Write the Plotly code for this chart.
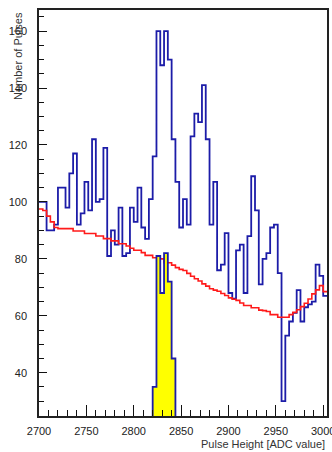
import plotly.graph_objects as go

# ---- data ----
bin_start = 2700
bin_width = 4
pulses = [100, 100, 90, 90, 92, 105, 105, 98, 110, 117,
          92, 96, 107, 97, 122, 100, 101, 119, 81, 90,
          85, 98, 81, 82, 98, 93, 105, 91, 87, 101,
          116, 160, 148, 160, 150, 122, 107, 91, 101, 92,
          123, 131, 128, 141, 122, 92, 107, 76, 78, 89,
          68, 66, 83, 85, 68, 88, 109, 97, 71, 80,
          82, 91, 92, 75, 30, 53, 58, 61, 69, 58,
          63, 64, 65, 78, 74, 67]
background = [97.5, 97, 95, 93, 91, 90.6, 90.6, 90.6, 90.6, 89.8,
              89.8, 89.8, 88.9, 88.9, 88.9, 88, 88, 87.1, 87.1, 86.3,
              86.3, 85.3, 85.3, 84.5, 83.7, 83, 83, 82.2, 81.2, 81.2,
              80.4, 80.4, 80, 78.6, 78.6, 77.8, 76.9, 76.3, 75.9, 74.9,
              73.9, 73, 72.2, 71.2, 70.4, 69.5, 69, 68.6, 67.8, 67.1,
              66.3, 65.8, 65.4, 64.5, 63.6, 63.6, 62.8, 62.8, 62, 61.8,
              61.5, 60.4, 60.4, 59.5, 59.5, 59.5, 60.4, 61.2, 62.1, 63.2,
              64.4, 65.9, 67.7, 69.1, 70.6, 68.5]
peak_first_bin = 30
peak_counts = [35, 81, 68, 82, 72, 45]

x_ticks = [2700, 2750, 2800, 2850, 2900, 2950, 3000]
y_ticks = [40, 60, 80, 100, 120, 140, 160]
x_title = "Pulse Height [ADC value]"
y_title = "Number of Pulses"

# ---- step curves ----
edges = [bin_start + bin_width * i for i in range(len(pulses) + 1)]
blue_y = pulses + [pulses[-1]]
red_y = background + [background[-1]]

pk_edges = [edges[peak_first_bin + i] for i in range(len(peak_counts) + 1)]
pk_x = [pk_edges[0]] + pk_edges + [pk_edges[-1]]
pk_y = [0] + peak_counts + [peak_counts[-1]] + [0]

BLUE = "#1c1ca8"
RED = "#ff1a1a"
FONT = "Liberation Sans, Arial, Helvetica, sans-serif"

fig = go.Figure()
fig.add_trace(go.Scatter(x=edges, y=blue_y, mode="lines", line_shape="hv",
                         line=dict(color=BLUE, width=1.8), hoverinfo="skip"))
fig.add_trace(go.Scatter(x=edges, y=red_y, mode="lines", line_shape="hv",
                         line=dict(color=RED, width=1.6), hoverinfo="skip"))
fig.add_trace(go.Scatter(x=pk_x, y=pk_y, mode="lines", line_shape="hv",
                         fill="tozeroy", fillcolor="#ffff00",
                         line=dict(color=BLUE, width=1.8), hoverinfo="skip"))

fig.update_layout(
    width=332, height=452,
    margin=dict(l=39, r=5, t=10, b=36, autoexpand=False),
    paper_bgcolor="white", plot_bgcolor="white",
    showlegend=False,
    font=dict(family=FONT, size=11, color="#222"),
    xaxis=dict(range=[2700, 3004], tickvals=x_ticks, ticktext=[str(v) for v in x_ticks],
               ticks="inside", ticklen=11, tickwidth=1, tickcolor="#111",
               minor=dict(ticks="inside", ticklen=6, dtick=10, tick0=2700, tickcolor="#111"),
               showline=True, linecolor="#222", linewidth=1.5, mirror=True,
               showgrid=False, zeroline=False, ticklabelstandoff=4,
               ticklabeloverflow="allow", automargin=False,
               tickfont=dict(family=FONT, size=11, color="#222")),
    yaxis=dict(range=[24.8, 167.4], tickvals=y_ticks, ticktext=[str(v) for v in y_ticks],
               ticks="inside", ticklen=8, tickwidth=1, tickcolor="#111",
               minor=dict(ticks="inside", ticklen=5, dtick=5, tick0=0, tickcolor="#111"),
               showline=True, linecolor="#222", linewidth=1.5, mirror=True,
               showgrid=False, zeroline=False, ticklabelstandoff=8,
               ticklabeloverflow="allow", automargin=False,
               tickfont=dict(family=FONT, size=11, color="#222")),
    annotations=[
        dict(text=x_title, xref="paper", yref="paper", x=1.0, y=0, yshift=-28,
             xanchor="right", yanchor="middle", showarrow=False,
             font=dict(family=FONT, size=11, color="#333")),
        dict(text=y_title, xref="paper", yref="paper", x=0, xshift=-21, y=1.0,
             xanchor="center", yanchor="top", textangle=-90, showarrow=False,
             font=dict(family=FONT, size=11, color="#333")),
    ],
)

fig.write_html("out.html")
